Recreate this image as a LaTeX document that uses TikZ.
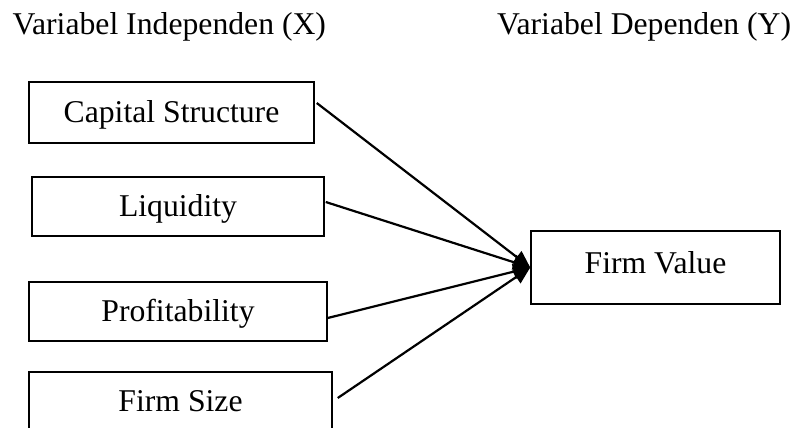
\documentclass[tikz,border=0pt]{standalone}
\usepackage{fontspec}
\setmainfont{Liberation Serif}
\usetikzlibrary{arrows.meta}
\begin{document}
\begin{tikzpicture}[x=1pt,y=-1pt,
  lbl/.style={font=\fontsize{31.7}{38}\selectfont},
  varbox/.style={lbl,draw=black,line width=1.5pt,inner sep=0pt,text height=21pt,text depth=2pt},
  link/.style={line width=2.2pt,-{Triangle[length=17pt,width=15pt]}}
]
\useasboundingbox (0,0) rectangle (798,428);
\begin{scope}
\clip (0,0) rectangle (798,428);
\node[lbl,anchor=base west,inner sep=0pt] (tx) at (12.5,35) {Variabel Independen (X)};
\node[lbl,anchor=base west,inner sep=0pt] (ty) at (497,35) {Variabel Dependen (Y)};
\node[varbox,minimum width=285pt,minimum height=61pt] (cs) at (171.5,112.5) {Capital Structure};
\node[varbox,minimum width=292pt,minimum height=59pt] (liq) at (178,206.5) {Liquidity};
\node[varbox,minimum width=298pt,minimum height=59pt] (prof) at (178,311.5) {Profitability};
\node[varbox,minimum width=303pt,minimum height=60pt] (fs) at (180.5,402) {Firm Size};
\node[varbox,minimum width=249pt,minimum height=73pt,text depth=9pt] (fv) at (655.5,267.5) {Firm Value};
\draw[link] ([xshift=2pt,yshift=9.5pt]cs.east) -- (fv.west);
\draw[link] ([xshift=1pt,yshift=4.5pt]liq.east) -- (fv.west);
\draw[link] ([yshift=-6.5pt]prof.east) -- (fv.west);
\draw[link] ([xshift=5pt,yshift=4pt]fs.east) -- (fv.west);
\end{scope}
\end{tikzpicture}
\end{document}
